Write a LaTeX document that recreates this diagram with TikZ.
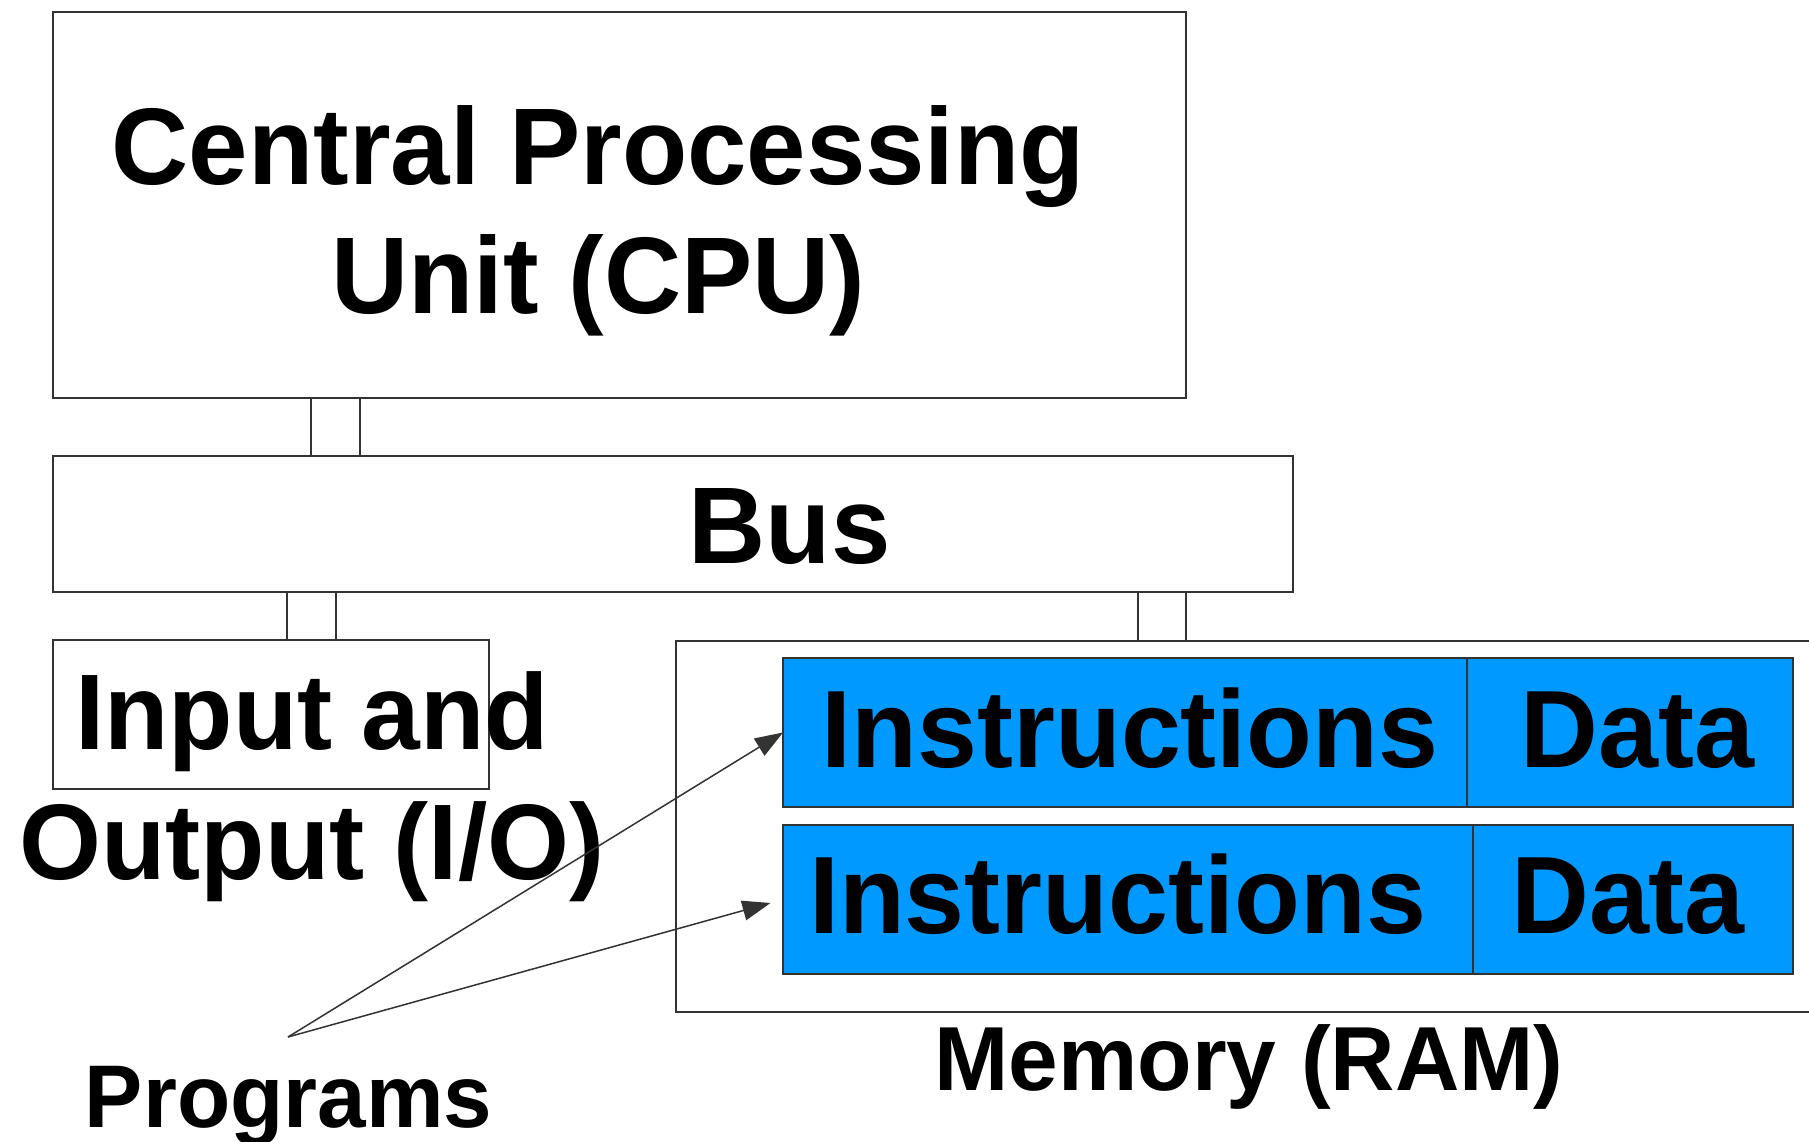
\documentclass[tikz,border=0pt]{standalone}
\usepackage{fontspec}
\setmainfont{Liberation Sans}[FakeStretch=0.98]
\usetikzlibrary{arrows.meta}
\definecolor{membl}{HTML}{0099FF}
\definecolor{edge}{HTML}{333333}
\begin{document}
\begin{tikzpicture}[x=1pt,y=-1pt,
  box/.style={draw=edge,line width=1.8pt,rectangle,inner sep=0pt,outer sep=0pt},
  cell/.style={draw=edge,fill=membl,line width=1.8pt,rectangle,inner sep=0pt,outer sep=0pt},
  big/.style={font=\fontsize{109}{129}\selectfont\bfseries,inner sep=0pt,anchor=base,align=center},
  cellfont/.style={font=\fontsize{110}{130}\selectfont\bfseries,inner sep=0pt,anchor=base},
  small/.style={font=\fontsize{90}{100}\selectfont\bfseries,inner sep=0pt,anchor=base},
  link/.style={draw=edge,line width=1.5pt},
  prog/.style={draw=edge,line width=1.5pt,-{Triangle[length=28pt,width=20pt]}}]
\clip (0,0) rectangle (1809,1142);
\fill[white] (0,0) rectangle (1809,1142);
% boxes
\node[box,minimum width=1133pt,minimum height=386pt] (cpu) at (619.5,205) {};
\node[box,minimum width=1240pt,minimum height=136pt] (bus) at (673,524) {};
\node[box,minimum width=436pt,minimum height=149pt] (io) at (271,714.5) {};
\node[box,minimum width=1164pt,minimum height=371pt] (mem) at (1258,826.5) {};
\node[cell,minimum width=684pt,minimum height=149pt] (ins1) at (1125,732.5) {};
\node[cell,minimum width=326pt,minimum height=149pt] (dat1) at (1630,732.5) {};
\node[cell,minimum width=690pt,minimum height=149pt] (ins2) at (1128,899.5) {};
\node[cell,minimum width=320pt,minimum height=149pt] (dat2) at (1633,899.5) {};
% bus connectors
\draw[link] ([xshift=258pt]cpu.south west) -- ([xshift=258pt]bus.north west);
\draw[link] ([xshift=307pt]cpu.south west) -- ([xshift=307pt]bus.north west);
\draw[link] ([xshift=234pt]bus.south west) -- ([xshift=234pt]io.north west);
\draw[link] ([xshift=283pt]bus.south west) -- ([xshift=283pt]io.north west);
\draw[link] ([xshift=1085pt]bus.south west) -- ([xshift=462pt]mem.north west);
\draw[link] ([xshift=1133pt]bus.south west) -- ([xshift=510pt]mem.north west);
% texts (multi-line nodes: base anchor = last line)
\node[big] (cputxt) at (598.5,313) {Central Processing\\Unit (CPU)};
\node[big] (bustxt) at (789.5,563) {Bus};
\node[big,font=\fontsize{107.5}{130}\selectfont\bfseries] (iotxt) at (312,879) {Input and\\Output (I/O)};
\node[cellfont] (i1txt) at (1130,767) {Instructions};
\node[cellfont] (d1txt) at (1637.5,767) {Data};
\node[cellfont] (i2txt) at (1117.5,933) {Instructions};
\node[cellfont] (d2txt) at (1628,933) {Data};
\node[small,font=\fontsize{91}{100}\selectfont\bfseries] (memtxt) at (1249,1090) {Memory (RAM)};
\node[small,font=\fontsize{89}{100}\selectfont\bfseries] (progtxt) at (288.5,1127) {Programs};
% program arrows
\coordinate (apex) at (288,1037);
\draw[prog] (apex) -- (ins1.west);
\draw[prog,shorten >=13pt] (apex) -- (ins2.west);
\end{tikzpicture}
\end{document}
